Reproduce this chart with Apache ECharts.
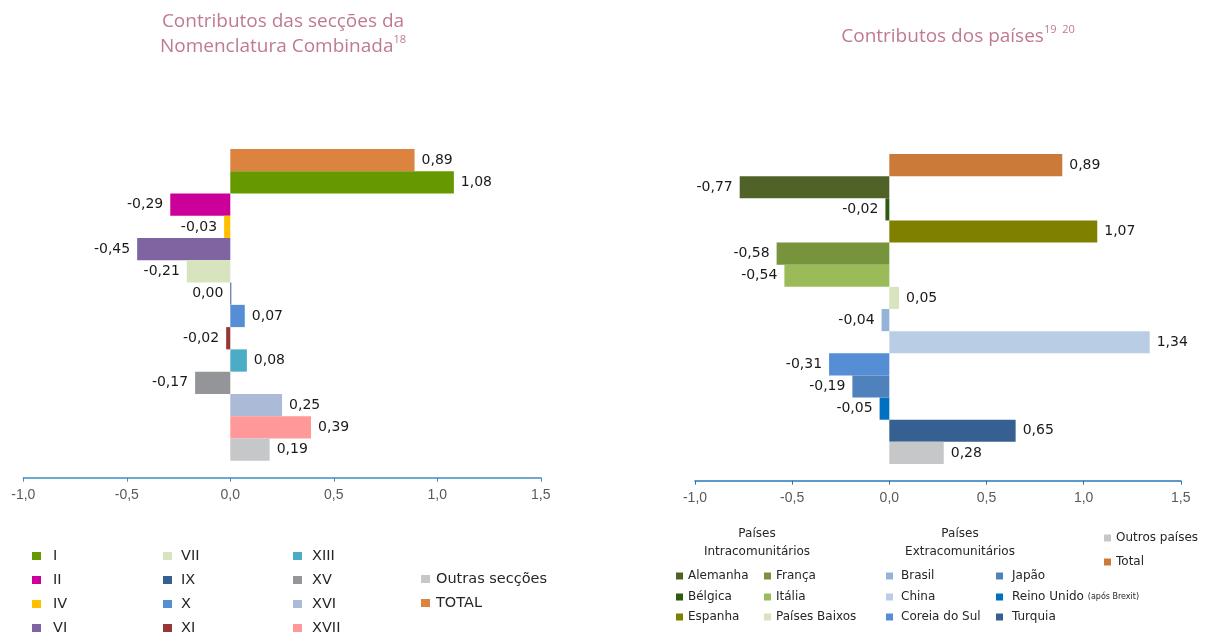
<!DOCTYPE html>
<html>
<head>
<meta charset="utf-8">
<script src="https://cdn.jsdelivr.net/npm/echarts@6/dist/echarts.min.js"></script>
<style>
  html, body { margin: 0; padding: 0; background: #fff; }
  #chart { width: 1208px; height: 633px; }
</style>
</head>
<body>
<div id="chart"></div>
<script>
// secções da Nomenclatura Combinada (de cima para baixo)
var seccoes = ["TOTAL", "I", "II", "IV", "VI", "VII", "IX", "X", "XI", "XIII", "XV", "XVI", "XVII", "Outras secções"];
var seccoesValores = [0.89, 1.08, -0.29, -0.03, -0.45, -0.21, 0.00, 0.07, -0.02, 0.08, -0.17, 0.25, 0.39, 0.19];

// países (de cima para baixo)
var paises = ["Total", "Alemanha", "Bélgica", "Espanha", "França", "Itália", "Países Baixos",
    "Brasil", "China", "Coreia do Sul", "Japão", "Reino Unido", "Turquia", "Outros países"];
var paisesValores = [0.89, -0.77, -0.02, 1.07, -0.58, -0.54, 0.05, -0.04, 1.34, -0.31, -0.19, -0.05, 0.65, 0.28];

// eixo x
var eixoMin = -1.0;
var eixoMax = 1.5;
var eixoPasso = 0.5;

var coresSeccoes = ["#DC843F", "#669900", "#CC0099", "#FFC000", "#8064A2", "#D7E4BD", "#376092",
    "#558ED5", "#953735", "#4BACC6", "#939598", "#ABBAD6", "#FF9999", "#C6C7C9"];
var coresPaises = ["#CB7A39", "#4F6228", "#2B5C10", "#808000", "#77933C", "#9BBB59", "#D7E4BD",
    "#95B3D7", "#B9CDE5", "#558ED5", "#4F81BD", "#0070C0", "#366092", "#C6C7C9"];

function virgula(v, casas) {
    return Number(v).toFixed(casas).replace(".", ",");
}

function makeSeries(cats, vals, cores, idx, stack) {
    return cats.map(function (nome, i) {
        return {
            name: nome,
            type: "bar",
            xAxisIndex: idx,
            yAxisIndex: idx,
            stack: stack,
            barCategoryGap: "0%",
            barMinHeight: vals[i] === 0 ? 1 : 0,
            itemStyle: { color: cores[i] },
            label: {
                show: true,
                position: vals[i] > 0 ? "right" : "left",
                distance: 7,
                fontFamily: "DejaVu Sans",
                fontSize: 14,
                color: "#1a1a1a",
                formatter: function (p) { return virgula(p.value, 2); }
            },
            data: cats.map(function (c, j) { return j === i ? vals[i] : "-"; })
        };
    });
}

function xAxisDe(idx, cor, offset) {
    return {
        type: "value",
        gridIndex: idx,
        min: eixoMin,
        max: eixoMax,
        interval: eixoPasso,
        offset: offset,
        axisLine: { show: true, lineStyle: { color: cor, width: 1.5 } },
        axisTick: { show: true, length: 4, lineStyle: { color: cor } },
        splitLine: { show: false },
        axisLabel: {
            margin: 10,
            fontFamily: "Liberation Sans",
            fontSize: 14,
            color: "#595959",
            formatter: function (v) { return virgula(v, 1); }
        }
    };
}

function yAxisDe(idx, cats) {
    return {
        type: "category",
        gridIndex: idx,
        inverse: true,
        data: cats,
        axisLine: { show: false },
        axisTick: { show: false },
        axisLabel: { show: false }
    };
}

// uma entrada de legenda por componente, para ficar onde está no original
function legendaItem(nome, left, centroY, fonte, pad) {
    var grande = fonte > 13;
    var lh = grande ? 16 : 14;
    return {
        orient: "vertical",
        left: left,
        top: centroY - lh / 2,
        padding: 0,
        itemWidth: grande ? 9 : 7,
        itemHeight: grande ? 8 : 7,
        icon: "rect",
        selectedMode: false,
        data: [nome],
        formatter: function (n) {
            return n === "Reino Unido" ? "{n|Reino Unido} {p|(após Brexit)}" : n;
        },
        textStyle: {
            fontFamily: "DejaVu Sans",
            fontSize: fonte,
            lineHeight: lh,
            color: "#262626",
            padding: [0, 0, 0, pad],
            rich: {
                n: { fontFamily: "DejaVu Sans", fontSize: 12, color: "#262626" },
                p: { fontFamily: "DejaVu Sans", fontSize: 8, color: "#262626" }
            }
        }
    };
}

function coluna(nomes, left, centros, fonte, pad) {
    return nomes.map(function (n, i) { return legendaItem(n, left, centros[i], fonte, pad); });
}

var linhasEsq = [556, 580, 604, 628];
var linhasDir = [576, 597, 617];

var legendas = [].concat(
    coluna(["I", "II", "IV", "VI"], 32, linhasEsq, 14.5, 7),
    coluna(["VII", "IX", "X", "XI"], 163, linhasEsq, 14.5, 4),
    coluna(["XIII", "XV", "XVI", "XVII"], 293, linhasEsq, 14.5, 5),
    coluna(["Outras secções", "TOTAL"], 421, [579, 603], 14.5, 1),
    coluna(["Alemanha", "Bélgica", "Espanha"], 676, linhasDir, 12, 0),
    coluna(["França", "Itália", "Países Baixos"], 764, linhasDir, 12, 0),
    coluna(["Brasil", "China", "Coreia do Sul"], 886, linhasDir, 12, 3),
    coluna(["Japão", "Reino Unido", "Turquia"], 996, linhasDir, 12, 4),
    coluna(["Outros países", "Total"], 1104, [538, 562], 12, 0)
);

var tituloCor = "#BF7A8F";
var tituloRich = {
    a: { fontFamily: "Open Sans", fontSize: 19, fill: tituloCor, lineHeight: 25 },
    s: { fontFamily: "Open Sans", fontSize: 11, fill: tituloCor, verticalAlign: "top", lineHeight: 25 }
};

var chart = echarts.init(document.getElementById("chart"));
chart.setOption({
    animation: false,
    grid: [
        { left: 23.3, top: 149, width: 517.5, height: 311.7 },
        { left: 695, top: 154, width: 485.8, height: 310 }
    ],
    xAxis: [xAxisDe(0, "#3D8FC6", 17), xAxisDe(1, "#2878B8", 16.7)],
    yAxis: [yAxisDe(0, seccoes), yAxisDe(1, paises)],
    legend: legendas,
    graphic: [
        {
            type: "text", x: 283, y: 9,
            style: {
                text: "{a|Contributos das secções da}\n{a|Nomenclatura Combinada}{s|18}",
                align: "center", fill: tituloCor, rich: tituloRich
            }
        },
        {
            type: "text", x: 958, y: 24,
            style: {
                text: "{a|Contributos dos países}{s|19  20}",
                align: "center", fill: tituloCor, rich: tituloRich
            }
        },
        {
            type: "text", x: 757, y: 525,
            style: { text: "Países\nIntracomunitários", align: "center", font: "12px DejaVu Sans",
                fill: "#262626", lineHeight: 18 }
        },
        {
            type: "text", x: 960, y: 525,
            style: { text: "Países\nExtracomunitários", align: "center", font: "12px DejaVu Sans",
                fill: "#262626", lineHeight: 18 }
        }
    ],
    series: makeSeries(seccoes, seccoesValores, coresSeccoes, 0, "sec")
        .concat(makeSeries(paises, paisesValores, coresPaises, 1, "pai"))
});
</script>
</body>
</html>
